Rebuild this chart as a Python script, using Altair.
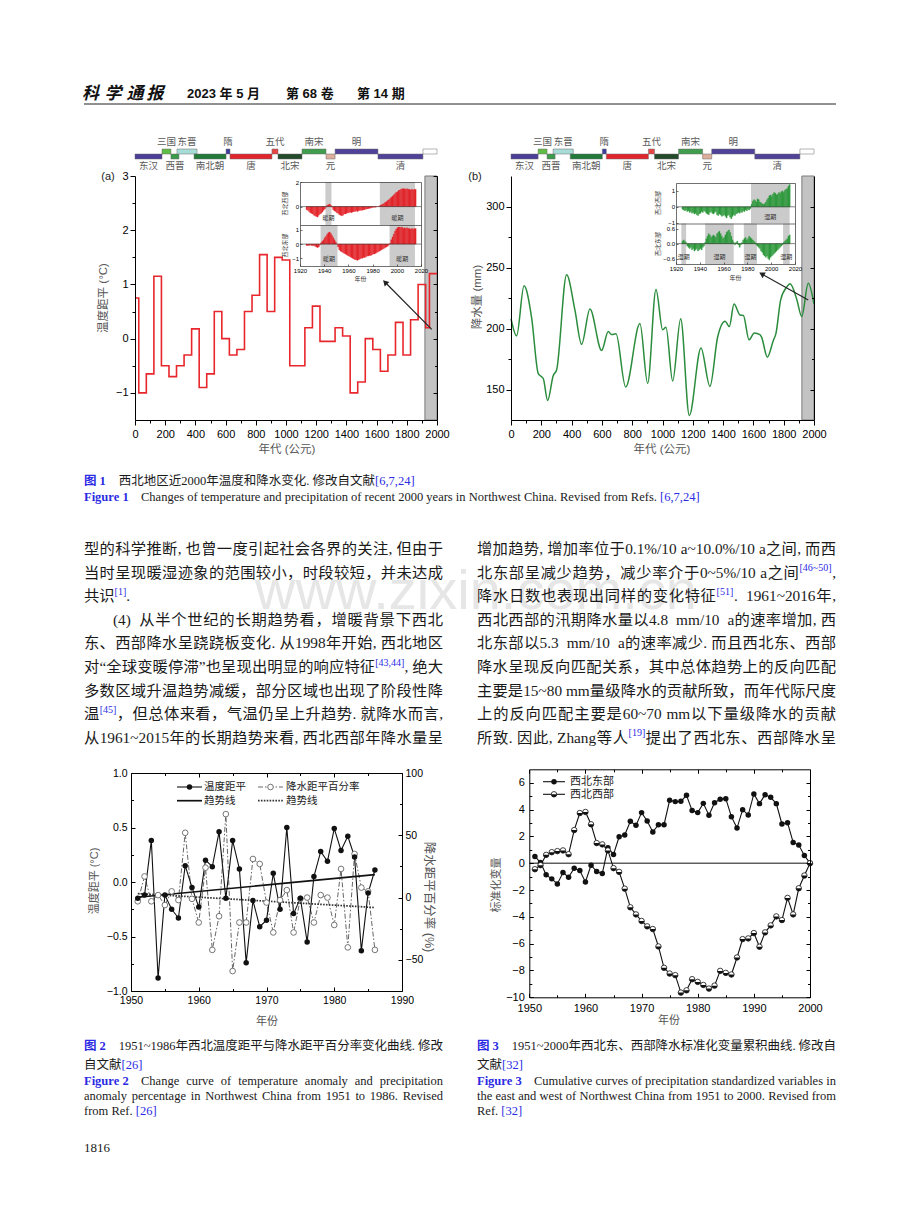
import math
import altair as alt
import pandas as pd

W, H = 920, 1227
SANS = "'Liberation Sans', 'Noto Sans CJK SC', sans-serif"
SERIF = "'Liberation Serif', 'Noto Sans CJK SC', serif"
CJKF = "'Noto Sans CJK SC', sans-serif"
BLUE = "#2b2be3"
INK = "#1a1a1a"
TGRAY = "#555555"

# ============================ DATA ============================
# ---- page text ----
HEADER_LOGO = ["科", "学", "通", "报"]
HEADER_ISSUE = ["2023 年 5 月", "第 68 卷", "第 14 期"]
PAGE_NUMBER = "1816"
WATERMARK = "www.zixin.com.cn"

BODY_LEFT = [
    ([("型的科学推断, 也曾一度引起社会各界的关注, 但由于", "n")], True),
    ([("当时呈现暖湿迹象的范围较小，时段较短，并未达成", "n")], True),
    ([("共识", "n"), ("[1]", "sup"), (".", "n")], False),
    ([("(4)  从半个世纪的长期趋势看，增暖背景下西北", "n")], True),
    ([("东、西部降水呈跷跷板变化. 从1998年开始, 西北地区", "n")], True),
    ([("对“全球变暖停滞”也呈现出明显的响应特征", "n"), ("[43,44]", "sup"), (", 绝大", "n")], True),
    ([("多数区域升温趋势减缓，部分区域也出现了阶段性降", "n")], True),
    ([("温", "n"), ("[45]", "sup"), ("，但总体来看，气温仍呈上升趋势. 就降水而言,", "n")], True),
    ([("从1961~2015年的长期趋势来看, 西北西部年降水量呈", "n")], True),
]
BODY_LEFT_INDENT = {3: 29}
BODY_RIGHT = [
    ([("增加趋势, 增加率位于0.1%/10 a~10.0%/10 a之间, 而西", "n")], True),
    ([("北东部呈减少趋势，减少率介于0~5%/10 a之间", "n"), ("[46~50]", "sup"), (",", "n")], True),
    ([("降水日数也表现出同样的变化特征", "n"), ("[51]", "sup"), (".  1961~2016年,", "n")], True),
    ([("西北西部的汛期降水量以4.8  mm/10  a的速率增加, 西", "n")], True),
    ([("北东部以5.3  mm/10  a的速率减少. 而且西北东、西部", "n")], True),
    ([("降水呈现反向匹配关系，其中总体趋势上的反向匹配", "n")], True),
    ([("主要是15~80 mm量级降水的贡献所致，而年代际尺度", "n")], True),
    ([("上的反向匹配主要是60~70 mm以下量级降水的贡献", "n")], True),
    ([("所致. 因此, Zhang等人", "n"), ("[19]", "sup"), ("提出了西北东、西部降水呈", "n")], True),
]

FIG1_CAP = [
    ("图 1", [("西北地区近2000年温度和降水变化. 修改自文献", "cn"), ("[6,7,24]", "cb")], False),
    ("Figure 1", [("Changes of temperature and precipitation of recent 2000 years in Northwest China. Revised from Refs. ", "cn"), ("[6,7,24]", "cb")], False),
]
FIG2_CAP = [
    ("图 2", [("1951~1986年西北温度距平与降水距平百分率变化曲线. 修改", "cn")], True),
    ("", [("自文献", "cn"), ("[26]", "cb")], False),
    ("Figure 2", [("Change curve of temperature anomaly and precipitation", "cn")], True),
    ("", [("anomaly percentage in Northwest China from 1951 to 1986. Revised", "cn")], True),
    ("", [("from Ref. ", "cn"), ("[26]", "cb")], False),
]
FIG3_CAP = [
    ("图 3", [("1951~2000年西北东、西部降水标准化变量累积曲线. 修改自", "cn")], True),
    ("", [("文献", "cn"), ("[32]", "cb")], False),
    ("Figure 3", [("Cumulative curves of precipitation standardized variables in", "cn")], True),
    ("", [("the east and west of Northwest China from 1951 to 2000. Revised from", "cn")], True),
    ("", [("Ref. ", "cn"), ("[32]", "cb")], False),
]

# ---- Figure 1: dynasty bar ----
DYN_NAMES = ["东汉", "三国", "西晋", "东晋", "南北朝", "隋", "唐", "五代", "北宋", "南宋", "元", "明", "清", "民国"]
DYN_START = [0, 179, 238, 278, 391, 603, 629, 907, 947, 1106, 1265, 1325, 1609, 1907]
DYN_END = [179, 238, 291, 411, 603, 629, 907, 947, 1106, 1265, 1325, 1609, 1907, 2000]
DYN_ROW = ["low", "up", "low", "up", "low", "up", "low", "up", "low", "up", "low", "up", "low", "up"]
DYN_COLOR = ["#4b3e97", "#5fbd45", "#3c9a4b", "#a8dcd7", "#217a39", "#3b3b9f", "#e1252c",
             "#e94444", "#234a2b", "#409d4e", "#dcae9b", "#504299", "#504299", "#ffffff"]

# ---- Figure 1a: temperature anomaly (50-yr steps) ----
TEMP_YEAR = [0, 25, 75, 125, 175, 225, 275, 325, 375, 425, 475, 525, 575, 625, 675, 725, 775, 825, 875, 925,
             975, 1025, 1125, 1175, 1225, 1325, 1375, 1425, 1475, 1525, 1575, 1625, 1675, 1725, 1775, 1825,
             1875, 1925, 1950, 2000]
TEMP_ANOM = [0.75, -1.0, -0.65, 1.15, -0.5, -0.7, -0.5, -0.3, 0.18, -0.9, -0.65, 0.5, 0.0, -0.3, -0.2, 0.5,
             0.8, 1.55, 0.5, 1.5, 1.45, -0.5, 0.2, 0.6, -0.05, 0.2, 0.05, -1.0, -0.8, 0.0, -0.2, -0.6, -0.3,
             0.3, -0.3, 0.35, 1.0, 0.2, 1.2, 1.2]

# ---- Figure 1b: precipitation (mm) ----
PRE_YEAR = [0, 37, 86, 136, 180, 213, 242, 279, 301, 367, 422, 466, 521, 598, 642, 664, 693, 757, 851, 902,
            957, 1001, 1023, 1067, 1120, 1177, 1254, 1313, 1364, 1413, 1441, 1472, 1512, 1534, 1571, 1606,
            1643, 1654, 1692, 1731, 1749, 1780, 1820, 1842, 1886, 1919, 1962, 2000]
PRE_MM = [208, 194, 235, 209, 163, 159, 141, 161.5, 166, 244, 215, 187, 216, 182, 197.5, 195, 195.6, 152, 204,
          155, 232, 199, 201, 157, 208, 128.7, 184, 152.5, 193, 206, 201.6, 220, 211, 210.7, 190.7, 196.4,
          195, 193, 176.5, 190, 196, 223.5, 234, 236.6, 224, 209.8, 237, 220]

MODERN_BAND = [1920, 2000]
ARROW_A_YEAR, ARROW_A_VAL = [1965, 1656], [0.17, 1.04]
ARROW_B_YEAR, ARROW_B_VAL = [1962, 1655], [223.4, 244.7]

# ---- Figure 1 insets (1925-2015, yearly) ----
INSET_YEARS = list(range(1925, 2016))
INSET_A_WEST = [-0.25, -0.3, -0.4, -0.5, -0.55, -0.6, -0.7, -0.75, -0.8, -0.85,
                -0.7, -0.6, -0.55, -0.45, -0.3, -0.2, -0.05, 0.1, 0.15, 0.2,
                0.1, -0.05, -0.25, -0.35, -0.4, -0.5, -0.55, -0.65, -0.7, -0.75,
                -0.7, -0.6, -0.6, -0.55, -0.5, -0.5, -0.45, -0.5, -0.45, -0.4,
                -0.4, -0.35, -0.4, -0.35, -0.3, -0.3, -0.3, -0.25, -0.25, -0.2,
                -0.2, -0.15, -0.15, -0.1, -0.1, -0.05, -0.05, -0.05, 0.0, 0.0,
                0.05, 0.1, 0.15, 0.2, 0.25, 0.35, 0.4, 0.5, 0.55, 0.65,
                0.75, 0.85, 0.95, 1.05, 1.15, 1.2, 1.3, 1.35, 1.4, 1.45,
                1.45, 1.45, 1.4, 1.45, 1.4, 1.4, 1.35, 1.4, 1.35, 1.4,
                1.4]
INSET_A_EAST = [-0.1, -0.1, -0.1, -0.05, -0.1, -0.1, -0.1, -0.15, -0.2, -0.25,
                -0.2, -0.05, 0.1, 0.2, 0.3, 0.45, 0.55, 0.7, 0.8, 0.85,
                0.75, 0.6, 0.45, 0.3, 0.15, 0.0, -0.2, -0.4, -0.5, -0.55,
                -0.6, -0.65, -0.7, -0.75, -0.8, -0.85, -0.9, -0.95, -1.0, -1.05,
                -1.1, -1.1, -1.15, -1.1, -1.05, -1.0, -1.0, -0.95, -0.95, -0.9,
                -0.85, -0.85, -0.8, -0.8, -0.75, -0.7, -0.7, -0.65, -0.6, -0.55,
                -0.5, -0.45, -0.4, -0.35, -0.3, -0.25, -0.2, -0.15, -0.05, 0.05,
                0.3, 0.5, 0.7, 0.9, 1.05, 1.15, 1.2, 1.2, 1.15, 1.2,
                1.1, 1.15, 1.1, 1.15, 1.1, 1.1, 1.05, 1.1, 1.05, 1.1,
                1.1]
INSET_B_WEST = [-0.15, -0.2, -0.25, -0.2, -0.3, -0.25, -0.35, -0.3, -0.4, -0.35,
                -0.45, -0.4, -0.5, -0.55, -0.45, -0.4, -0.3, -0.35, -0.25, -0.3,
                -0.4, -0.45, -0.5, -0.35, -0.3, -0.4, -0.45, -0.35, -0.3, -0.5,
                -0.55, -0.45, -0.5, -0.6, -0.55, -0.5, -0.6, -0.7, -0.55, -0.5,
                -0.65, -0.75, -0.6, -0.5, -0.55, -0.45, -0.4, -0.35, -0.4, -0.3,
                -0.35, -0.25, -0.3, -0.2, -0.25, -0.15, -0.2, -0.1, 0.15, 0.35,
                0.45, 0.4, 0.3, 0.5, 0.45, 0.3, 0.25, 0.2, 0.15, 0.2,
                0.3, 0.45, 0.55, 0.7, 0.75, 0.65, 0.8, 0.9, 0.85, 0.75,
                0.8, 0.9, 0.85, 0.95, 1.0, 0.9, 1.05, 1.1, 1.15, 1.3,
                1.4]
INSET_B_EAST = [0.1, 0.15, 0.1, 0.05, -0.1, -0.15, -0.2, -0.15, -0.25, -0.2,
                -0.3, -0.25, -0.2, -0.3, -0.25, -0.2, -0.25, -0.15, -0.1, 0.05,
                0.2, 0.3, 0.4, 0.35, 0.25, 0.3, 0.35, 0.3, 0.25, 0.4,
                0.45, 0.5, 0.4, 0.3, 0.2, 0.25, 0.35, 0.45, 0.5, 0.55,
                0.45, 0.3, 0.15, 0.05, -0.05, 0.05, 0.1, -0.05, -0.15, -0.05,
                0.05, 0.15, 0.2, 0.25, 0.15, 0.2, 0.3, 0.25, 0.2, 0.15,
                0.1, 0.05, -0.05, -0.1, -0.15, -0.2, -0.3, -0.35, -0.45, -0.5,
                -0.55, -0.5, -0.6, -0.65, -0.55, -0.5, -0.45, -0.4, -0.35, -0.3,
                -0.25, -0.2, -0.15, -0.1, -0.05, 0.05, 0.1, 0.15, 0.2, 0.3,
                0.35]
INSET_A_WEST_WARM = ([1941, 1986], [1946, 2015])
INSET_A_EAST_WARM = ([1937, 1994], [1951, 2015])
INSET_B_WEST_WET = ([1983], [2015.5])
INSET_B_EAST_WET = ([1924.5, 1944.5, 1977, 2010], [1928.5, 1968.5, 1988, 2015.5])

# ---- Figure 2 ----
F2_YEAR = list(range(1951, 1987))
F2_TEMP = [-0.15, -0.12, 0.38, -0.88, -0.12, -0.25, -0.33, 0.15, -0.05, -0.23,
           0.20, 0.14, 0.46, -0.15, 0.38, 0.12, -0.74, -0.17, -0.41, -0.35,
           0.08, -0.25, 0.50, -0.29, -0.15, -0.55, 0.05, 0.28, 0.19, 0.49,
           0.29, 0.42, 0.23, -0.63, -0.10, 0.11]
F2_PREC = [-3, 17, -3, 2, -6, 5, -2, 52, -1, -20,
           24, -42, -15, 67, -59, -20, -20, 31, 27, -4,
           -28, -2, 6, -28, -1, 0, -20, 2, 0, -22,
           23, -40, 35, 8, 5, -42]
F2_TREND_YEAR = [1951, 1986]
F2_TREND_TEMP = [-0.14, 0.067]
F2_TREND_PREC = [3.2, -8.0]

# ---- Figure 3 ----
F3_YEAR = list(range(1951, 2001))
F3_EAST = [0.5, 0.05, -0.87, -1.17, -1.55, -0.7, -1.05, -0.37, -0.55, -1.4,
           -0.15, -0.62, -0.77, 1.15, 0.65, 1.97, 2.1, 3.12, 2.82, 3.77,
           3.14, 2.32, 2.87, 2.87, 4.69, 4.59, 4.61, 5.06, 3.92, 3.77,
           4.46, 3.57, 4.51, 4.76, 4.81, 3.47, 2.62, 3.99, 3.59, 5.16,
           4.44, 5.11, 4.91, 4.44, 2.92, 3.02, 1.55, 1.35, 0.57, 0.0]
F3_WEST = [-0.45, -0.15, 0.62, 0.82, 0.9, 0.95, 0.67, 2.47, 3.74, 3.82,
           2.9, 1.5, 1.4, 0.95, -0.37, -0.65, -1.9, -3.29, -3.82, -4.31,
           -4.71, -4.91, -6.21, -7.8, -8.23, -8.35, -9.65, -9.48, -8.65, -8.85,
           -9.08, -9.35, -9.13, -8.03, -8.18, -8.3, -7.03, -5.66, -5.61, -5.21,
           -6.23, -5.16, -4.64, -3.97, -4.24, -2.59, -3.82, -1.87, -0.92, 0.0]

# ============================ HELPERS ============================
DUMMY = pd.DataFrame({"d": [0]})
OPP = {"left": "right", "right": "left", "top": "bottom", "bottom": "top"}


def sc(dom, rng):
    return alt.Scale(domain=list(dom), range=list(rng), nice=False, zero=False)


def val2px(v, dom, rng):
    return rng[0] + (v - dom[0]) / (dom[1] - dom[0]) * (rng[1] - rng[0])


def px2val(p, dom, rng):
    return dom[0] + (p - rng[0]) / (rng[1] - rng[0]) * (dom[1] - dom[0])


def axis_layer(chan, dom, rng, orient, pos, values=(), labels=False, tick=0.0, line=True,
               fmt=None, fs=11.0, pad=3.0, color="black", lw=1.0, lcolor="black"):
    off = {"left": -pos, "right": pos - W, "top": -pos, "bottom": pos - H}[orient]
    kw = dict(orient=orient, offset=off, grid=False, title=None, labels=labels,
              ticks=tick > 0, domain=line, domainColor=color, domainWidth=lw,
              tickColor=color, tickWidth=lw, labelFont=SANS, labelFontSize=fs,
              labelColor=lcolor, labelPadding=pad, labelFlush=False,
              labelOverlap=False, values=list(values), zindex=3)
    if tick > 0:
        kw["tickSize"] = tick
    if fmt:
        kw["format"] = fmt
    enc = (alt.X if chan == "x" else alt.Y)("v:Q", scale=sc(dom, rng), axis=alt.Axis(**kw))
    return alt.Chart(pd.DataFrame({"v": list(dom)})).mark_point(opacity=0, size=1).encode(**{chan: enc})


def frame_side(chan, dom, rng, orient, pos, major, minor=(), labels=True, fmt=None, fs=11,
               pad=3, inward=True, tick=4, mtick=2.5, color="black", lw=1.0):
    out = []
    if inward:
        out.append(axis_layer(chan, dom, rng, orient, pos, values=major if labels else [],
                              labels=labels, line=True, fmt=fmt, fs=fs, pad=pad, color=color, lw=lw))
        out.append(axis_layer(chan, dom, rng, OPP[orient], pos, values=major, tick=tick,
                              line=False, color=color, lw=lw))
        if minor:
            out.append(axis_layer(chan, dom, rng, OPP[orient], pos, values=minor, tick=mtick,
                                  line=False, color=color, lw=lw))
    else:
        out.append(axis_layer(chan, dom, rng, orient, pos, values=major, labels=labels, tick=tick,
                              line=True, fmt=fmt, fs=fs, pad=pad, color=color, lw=lw))
        if minor:
            out.append(axis_layer(chan, dom, rng, orient, pos, values=minor, tick=mtick,
                                  line=False, color=color, lw=lw))
    return out


def band_layer(x0s, x1s, xd, xr, yd, yr, fill, stroke=None, sw=0.0):
    n = len(x0s)
    df = pd.DataFrame({"x0": x0s, "x1": x1s, "y0": [yd[0]] * n, "y1": [yd[1]] * n})
    kw = dict(fill=fill, opacity=1)
    if stroke:
        kw.update(stroke=stroke, strokeWidth=sw)
    return alt.Chart(df).mark_rect(**kw).encode(
        x=alt.X("x0:Q", scale=sc(xd, xr), axis=None), x2="x1:Q",
        y=alt.Y("y0:Q", scale=sc(yd, yr), axis=None), y2="y1:Q")


def bars_layer(years, vals, xd, xr, yd, yr, color):
    df = pd.DataFrame({"x0": years, "v": vals})
    df["x1"] = df["x0"] + 1
    df["z"] = 0.0
    return alt.Chart(df).mark_rect(fill=color, stroke=color, strokeWidth=0.3, opacity=1).encode(
        x=alt.X("x0:Q", scale=sc(xd, xr), axis=None), x2="x1:Q",
        y=alt.Y("z:Q", scale=sc(yd, yr), axis=None), y2="v:Q")


def line_layer(xs, ys, xd, xr, yd, yr, color, width, interp="linear", dash=None):
    df = pd.DataFrame({"x": xs, "y": ys})
    kw = dict(color=color, strokeWidth=width, interpolate=interp)
    if dash:
        kw["strokeDash"] = dash
    return alt.Chart(df).mark_line(**kw).encode(
        x=alt.X("x:Q", scale=sc(xd, xr), axis=None),
        y=alt.Y("y:Q", scale=sc(yd, yr), axis=None))


def point_layer(xs, ys, xd, xr, yd, yr, shape="circle", size=30, fill="black",
                stroke=None, sw=0.0, angle=None):
    kw = dict(shape=shape, size=size, filled=True, fill=fill, opacity=1)
    if stroke:
        kw.update(stroke=stroke, strokeWidth=sw)
    else:
        kw.update(strokeWidth=0)
    if angle is not None:
        kw["angle"] = angle
    df = pd.DataFrame({"x": xs, "y": ys})
    return alt.Chart(df).mark_point(**kw).encode(
        x=alt.X("x:Q", scale=sc(xd, xr), axis=None),
        y=alt.Y("y:Q", scale=sc(yd, yr), axis=None))


def hrule_layer(xd, xr, yd, yr, yval, color, width):
    df = pd.DataFrame({"x0": [xd[0]], "x1": [xd[1]], "y": [yval]})
    return alt.Chart(df).mark_rule(color=color, strokeWidth=width).encode(
        x=alt.X("x0:Q", scale=sc(xd, xr), axis=None), x2="x1:Q",
        y=alt.Y("y:Q", scale=sc(yd, yr), axis=None))


def label_layer(xs, ys, texts, xd, xr, yd, yr, fs, color):
    df = pd.DataFrame({"x": xs, "y": ys, "t": texts})
    return alt.Chart(df).mark_text(font=SANS, fontSize=fs, color=color, align="center",
                                   baseline="middle").encode(
        x=alt.X("x:Q", scale=sc(xd, xr), axis=None),
        y=alt.Y("y:Q", scale=sc(yd, yr), axis=None), text="t:N")


def arrow_layers(xs, ys, xd, xr, yd, yr):
    x0, y0 = val2px(xs[0], xd, xr), val2px(ys[0], yd, yr)
    x1, y1 = val2px(xs[1], xd, xr), val2px(ys[1], yd, yr)
    ang = math.degrees(math.atan2(x1 - x0, -(y1 - y0))) % 360
    return [line_layer(xs, ys, xd, xr, yd, yr, "#222222", 1.2),
            point_layer([xs[1]], [ys[1]], xd, xr, yd, yr, shape="triangle-up", size=42,
                        fill="#222222", angle=round(ang, 1))]


def g_rule(x0, x1, y, color, width, dash=None):
    kw = dict(color=color, strokeWidth=width)
    if dash:
        kw["strokeDash"] = dash
    return alt.Chart(DUMMY).mark_rule(**kw).encode(x=alt.value(x0), x2=alt.value(x1), y=alt.value(y))


def g_point(x, y, shape, size, fill, stroke=None, sw=0.0):
    kw = dict(shape=shape, size=size, filled=True, fill=fill, opacity=1)
    if stroke:
        kw.update(stroke=stroke, strokeWidth=sw)
    else:
        kw.update(strokeWidth=0)
    return alt.Chart(DUMMY).mark_point(**kw).encode(x=alt.value(x), y=alt.value(y))


HALF = "M 1 0 " + " ".join(
    "L %.3f %.3f" % (math.cos(math.radians(a)), math.sin(math.radians(a))) for a in range(15, 181, 15)) + " Z"

# ---------------- text engine ----------------
TW = {" ": 250, "!": 333, "%": 833, "(": 333, ")": 333, ",": 250, "-": 333, ".": 250, "/": 278,
      ":": 278, ";": 278, "[": 333, "]": 333, "~": 541, "\u201c": 444, "\u201d": 444, "°": 400}
for _d in "0123456789":
    TW[_d] = 500
TW.update(dict(A=722, B=667, C=667, D=722, E=611, F=556, G=722, H=722, I=333, J=389, K=722, L=611,
               M=889, N=722, O=722, P=556, Q=722, R=667, S=556, T=611, U=722, V=722, W=944, X=722,
               Y=722, Z=611))
TW.update(dict(a=444, b=500, c=444, d=500, e=444, f=333, g=500, h=500, i=278, j=278, k=500, l=278,
               m=778, n=500, o=500, p=500, q=500, r=333, s=389, t=278, u=500, v=500, w=722, x=500,
               y=500, z=444))
TWB = dict(TW)
TWB.update({"F": 611, "u": 556, "r": 444, "g": 500})


def is_cjk(ch):
    o = ord(ch)
    return (0x2E80 <= o <= 0x9FFF) or (0xFF00 <= o <= 0xFFEF) or (0x3000 <= o <= 0x303F)


def char_w(ch, bold=False):
    if is_cjk(ch):
        return 1.0
    return (TWB if bold else TW).get(ch, 500) / 1000.0


RECS = []


def add_text(t, x, y, fs, color, font=SERIF, weight="normal", align="left", base="alphabetic",
             ang=0, style="normal"):
    RECS.append(dict(t=t, x=round(x, 2), y=round(y, 2), fs=fs, c=color, ang=ang, font=font,
                     weight=weight, align=align, base=base, style=style))


STY = {
    "n": (15.3, INK, "normal", 0.0),
    "sup": (10.0, BLUE, "normal", -6.5),
    "cn": (12.5, INK, "normal", 0.0),
    "cb": (12.5, BLUE, "normal", 0.0),
    "cl": (12.5, BLUE, "bold", 0.0),
}


def layout(segs, x0, x1, yb, justify):
    toks = []
    gap = 0.0
    for text, st in segs:
        fs, col, wt, dy = STY[st]
        bold = wt == "bold"
        run = ""
        for ch in text + "\0":
            if ch == "\0" or ch == " " or is_cjk(ch):
                if run:
                    toks.append([run, sum(char_w(c, bold) for c in run) * fs, st, gap])
                    gap = 0.0
                    run = ""
                if ch == " ":
                    gap += char_w(" ", bold) * fs
                elif ch != "\0":
                    toks.append([ch, fs, st, gap])
                    gap = 0.0
            else:
                run += ch
    n = len(toks)
    natural = sum(t[1] for t in toks) + sum(t[3] for t in toks[1:])
    extra = (x1 - x0 - natural) / (n - 1) if (justify and n > 1) else 0.0
    x = x0
    for i, (t, w, st, g) in enumerate(toks):
        if i > 0:
            x += g + extra
        fs, col, wt, dy = STY[st]
        add_text(t, x, yb + dy, fs, col, SERIF, wt)
        x += w
    return x


def text_layers(recs):
    df = pd.DataFrame(recs)
    out = []
    for key, g in df.groupby(["font", "weight", "align", "base", "style"], sort=False):
        font, weight, align, base, style = key
        d = g[["t", "x", "y", "fs", "c", "ang"]].reset_index(drop=True)
        out.append(alt.Chart(d).mark_text(font=font, fontWeight=weight, align=align, baseline=base,
                                          fontStyle=style).encode(
            x=alt.X("x:Q", scale=None), y=alt.Y("y:Q", scale=None), text="t:N",
            size=alt.Size("fs:Q", scale=None), color=alt.Color("c:N", scale=None),
            angle=alt.Angle("ang:Q", scale=None)))
    return out


# ============================ BUILD ============================
layers = []

# watermark (behind everything)
wm = dict(t=WATERMARK, x=255, y=609, fs=56, c="#e6e6e6", ang=0, font=SANS, weight="normal",
          align="left", base="alphabetic", style="normal")
layers += text_layers([wm])

# ---------------- Figure 1 main panels ----------------
PANELS = [
    dict(xr=[135, 437], yd=[-1.5, 3.0], yr=[420, 176], major=[-1, 0, 1, 2, 3],
         minor=[-0.5, 0.5, 1.5, 2.5]),
    dict(xr=[511, 814], yd=[125, 325], yr=[420, 176], major=[150, 200, 250, 300],
         minor=[175, 225, 275]),
]
XD = [0, 2000]
DYS_D, DYS_R = [0, 2], [159, 149]
dyn = pd.DataFrame({"name": DYN_NAMES, "s": DYN_START, "e": DYN_END, "row": DYN_ROW, "col": DYN_COLOR})
dyn["y0"] = [1.0 if r == "up" else 0.0 for r in dyn["row"]]
dyn["y1"] = dyn["y0"] + 1.0
dyn["mid"] = (dyn["s"] + dyn["e"]) / 2.0
dyn["ly"] = [3.4 if r == "up" else -1.4 for r in dyn["row"]]

for k, P in enumerate(PANELS):
    xr, yd, yr = P["xr"], P["yd"], P["yr"]
    # dynasty bar
    layers.append(alt.Chart(dyn).mark_rect(stroke="#6a6a6a", strokeWidth=0.5, opacity=1).encode(
        x=alt.X("s:Q", scale=sc(XD, xr), axis=None), x2="e:Q",
        y=alt.Y("y0:Q", scale=sc(DYS_D, DYS_R), axis=None), y2="y1:Q",
        color=alt.Color("col:N", scale=None)))
    layers.append(alt.Chart(dyn[dyn["name"] != "民国"]).mark_text(
        font=SANS, fontSize=9.5, color="#5a5a5a", align="center", baseline="middle").encode(
        x=alt.X("mid:Q", scale=sc(XD, xr), axis=None),
        y=alt.Y("ly:Q", scale=sc(DYS_D, DYS_R), axis=None), text="name:N"))
    # modern gray band
    layers.append(band_layer([MODERN_BAND[0]], [MODERN_BAND[1]], XD, xr, yd, yr, "#c3c3c3",
                             stroke="#7c7c7c", sw=1.0))
    if k == 0:
        layers.append(line_layer(TEMP_YEAR, TEMP_ANOM, XD, xr, yd, yr, "#e8272c", 1.6,
                                 interp="step-after"))
        layers += arrow_layers(ARROW_A_YEAR, ARROW_A_VAL, XD, xr, yd, yr)
    else:
        layers.append(line_layer(PRE_YEAR, PRE_MM, XD, xr, yd, yr, "#2a8c3c", 1.5,
                                 interp="monotone"))
        layers += arrow_layers(ARROW_B_YEAR, ARROW_B_VAL, XD, xr, yd, yr)
    # axes
    layers += frame_side("y", yd, yr, "left", xr[0], P["major"], P["minor"], labels=True,
                         fs=11, pad=2, inward=False, tick=5, mtick=3)
    layers += frame_side("x", XD, xr, "bottom", yr[0], list(range(0, 2001, 200)),
                         list(range(100, 2000, 200)), labels=True, fmt="d", fs=11, pad=3,
                         inward=False, tick=5, mtick=3)
    layers += frame_side("y", yd, yr, "right", xr[1], P["major"], P["minor"], labels=False,
                         inward=True, tick=4, mtick=2.5)

# ---------------- Figure 1 insets ----------------
INSETS = [
    dict(xr=[300, 421], tyd=[-1.5, 2.0], tyr=[225, 182], byd=[-1.55, 1.35], byr=[266, 225],
         west=INSET_A_WEST, east=INSET_A_EAST, color="#e3262b", tb=INSET_A_WEST_WARM,
         bb=INSET_A_EAST_WARM, lab="暖期", tv=[0, 2], bv=[-1, 0, 1], tf=None, bf=None),
    dict(xr=[676, 795], tyd=[-1.05, 1.5], tyr=[223.5, 183], byd=[-0.82, 0.81], byr=[264, 223.5],
         west=INSET_B_WEST, east=INSET_B_EAST, color="#2f9a3d", tb=INSET_B_WEST_WET,
         bb=INSET_B_EAST_WET, lab="湿期", tv=[-1, 0, 1], bv=[-0.6, 0, 0.6], tf=None, bf=".1f"),
]
IXD = [1920, 2020]
for I in INSETS:
    xr, tyd, tyr, byd, byr = I["xr"], I["tyd"], I["tyr"], I["byd"], I["byr"]
    layers.append(band_layer(I["tb"][0], I["tb"][1], IXD, xr, tyd, tyr, "#cbcbcb"))
    layers.append(band_layer(I["bb"][0], I["bb"][1], IXD, xr, byd, byr, "#cbcbcb"))
    layers.append(bars_layer(INSET_YEARS, I["west"], IXD, xr, tyd, tyr, I["color"]))
    layers.append(bars_layer(INSET_YEARS, I["east"], IXD, xr, byd, byr, I["color"]))
    layers.append(hrule_layer(IXD, xr, tyd, tyr, 0, "#333333", 0.6))
    layers.append(hrule_layer(IXD, xr, byd, byr, 0, "#333333", 0.6))
    tmid = [(a + b) / 2 for a, b in zip(*I["tb"])]
    bmid = [(a + b) / 2 for a, b in zip(*I["bb"])]
    ty = px2val(tyr[0] - 7, tyd, tyr)
    by = px2val(byr[0] - 6.7, byd, byr)
    layers.append(label_layer(tmid, [ty] * len(tmid), [I["lab"]] * len(tmid), IXD, xr, tyd, tyr, 6, "#333333"))
    layers.append(label_layer(bmid, [by] * len(bmid), [I["lab"]] * len(bmid), IXD, xr, byd, byr, 6, "#333333"))
    fc, lw = "#333333", 0.7
    layers += frame_side("y", tyd, tyr, "left", xr[0], I["tv"], labels=True, fmt=I["tf"], fs=6,
                         pad=1.5, tick=2, color=fc, lw=lw)
    layers += frame_side("y", byd, byr, "left", xr[0], I["bv"], labels=True, fmt=I["bf"], fs=6,
                         pad=1.5, tick=2, color=fc, lw=lw)
    layers.append(axis_layer("y", [0, 1], [byr[0], tyr[1]], "right", xr[1], color=fc, lw=lw))
    layers.append(axis_layer("x", IXD, xr, "top", tyr[1], color=fc, lw=lw))
    layers.append(axis_layer("x", IXD, xr, "bottom", tyr[0], color=fc, lw=lw))
    layers += frame_side("x", IXD, xr, "bottom", byr[0], list(range(1920, 2021, 20)), labels=True,
                         fmt="d", fs=6, pad=1.5, tick=2, color=fc, lw=lw)

# ---------------- Figure 2 ----------------
F2_XD, F2_XR = [1950, 1990], [131, 402]
F2_YLD, F2_YR = [-1.0, 1.0], [991, 773]
F2_YRD = [-75, 100]
layers.append(line_layer(F2_YEAR, F2_PREC, F2_XD, F2_XR, F2_YRD, F2_YR, "#666666", 1.0,
                         dash=[5, 2, 1.5, 2]))
layers.append(line_layer(F2_YEAR, F2_TEMP, F2_XD, F2_XR, F2_YLD, F2_YR, "#111111", 1.1))
layers.append(line_layer(F2_TREND_YEAR, F2_TREND_TEMP, F2_XD, F2_XR, F2_YLD, F2_YR, "#111111", 1.7))
layers.append(line_layer(F2_TREND_YEAR, F2_TREND_PREC, F2_XD, F2_XR, F2_YRD, F2_YR, "#333333", 1.7,
                         dash=[1.6, 1.3]))
layers.append(point_layer(F2_YEAR, F2_PREC, F2_XD, F2_XR, F2_YRD, F2_YR, size=32, fill="white",
                          stroke="#666666", sw=0.9))
layers.append(point_layer(F2_YEAR, F2_TEMP, F2_XD, F2_XR, F2_YLD, F2_YR, size=30, fill="#111111"))
layers += frame_side("y", F2_YLD, F2_YR, "left", F2_XR[0], [-1.0, -0.5, 0.0, 0.5, 1.0],
                     [-0.75, -0.25, 0.25, 0.75], labels=True, fmt=".1f", fs=10.5, pad=4)
layers += frame_side("y", F2_YRD, F2_YR, "right", F2_XR[1], [-50, 0, 50, 100], [-25, 25, 75],
                     labels=True, fs=10.5, pad=3)
layers += frame_side("x", F2_XD, F2_XR, "bottom", F2_YR[0], [1950, 1960, 1970, 1980, 1990],
                     [1955, 1965, 1975, 1985], labels=True, fmt="d", fs=10.5, pad=4)
layers += frame_side("x", F2_XD, F2_XR, "top", F2_YR[1], [1950, 1960, 1970, 1980, 1990],
                     [1955, 1965, 1975, 1985], labels=False)
# legend
layers += [g_rule(177, 202, 787, "#111111", 1.1), g_point(189.5, 787, "circle", 30, "#111111"),
           g_rule(258, 283, 787, "#666666", 1.0, [5, 2, 1.5, 2]),
           g_point(270.5, 787, "circle", 32, "white", "#666666", 0.9),
           g_rule(177, 202, 800.7, "#111111", 1.7),
           g_rule(258, 283, 800.7, "#333333", 1.7, [1.6, 1.3])]

# ---------------- Figure 3 ----------------
F3_XD, F3_XR = [1950, 2000], [529.3, 810]
F3_YD, F3_YR = [-10, 7], [997.3, 769.3]
layers.append(hrule_layer(F3_XD, F3_XR, F3_YD, F3_YR, 0, "#111111", 1.0))
layers.append(line_layer(F3_YEAR, F3_EAST, F3_XD, F3_XR, F3_YD, F3_YR, "#111111", 1.1))
layers.append(line_layer(F3_YEAR, F3_WEST, F3_XD, F3_XR, F3_YD, F3_YR, "#111111", 1.1))
layers.append(point_layer(F3_YEAR, F3_EAST, F3_XD, F3_XR, F3_YD, F3_YR, size=30, fill="#111111"))
layers.append(point_layer(F3_YEAR, F3_WEST, F3_XD, F3_XR, F3_YD, F3_YR, size=30, fill="white",
                          stroke="#111111", sw=0.8))
layers.append(point_layer(F3_YEAR, F3_WEST, F3_XD, F3_XR, F3_YD, F3_YR, shape=HALF, size=30,
                          fill="#111111"))
layers += frame_side("y", F3_YD, F3_YR, "left", F3_XR[0], list(range(-10, 7, 2)),
                     list(range(-9, 7, 2)), labels=True, fs=11, pad=5)
layers += frame_side("y", F3_YD, F3_YR, "right", F3_XR[1], list(range(-10, 7, 2)),
                     list(range(-9, 7, 2)), labels=False)
layers += frame_side("x", F3_XD, F3_XR, "bottom", F3_YR[0], list(range(1950, 2001, 10)),
                     list(range(1955, 2000, 10)), labels=True, fmt="d", fs=11, pad=5)
layers += frame_side("x", F3_XD, F3_XR, "top", F3_YR[1], list(range(1950, 2001, 10)),
                     list(range(1955, 2000, 10)), labels=False)
layers += [g_rule(543, 565, 781.7, "#111111", 1.1), g_point(554, 781.7, "circle", 30, "#111111"),
           g_rule(543, 565, 794.3, "#111111", 1.1),
           g_point(554, 794.3, "circle", 30, "white", "#111111", 0.8),
           g_point(554, 794.3, HALF, 30, "#111111")]

# header rule
layers.append(g_rule(84, 836, 104, "#222222", 1.0))

# ---------------- texts ----------------
# header
for ch, cx in zip(HEADER_LOGO, [90.5, 113, 135, 155]):
    add_text(ch, cx, 99, 17, "#111111", CJKF, "bold", "center", style="italic")
for s, x in zip(HEADER_ISSUE, [187, 286, 357]):
    add_text(s, x, 97.6, 13, "#111111", SANS, "bold")

# body text
for col, (x0, x1), lines in [("L", (84, 443), BODY_LEFT), ("R", (477, 836), BODY_RIGHT)]:
    for i, (segs, just) in enumerate(lines):
        indent = BODY_LEFT_INDENT.get(i, 0) if col == "L" else 0
        yc = 548.5 + i * 23.6
        layout(segs, x0 + indent, x1, yc + 5.5, just)


def caption(lines, x0, x1, ycs):
    for (lab, segs, just), yc in zip(lines, ycs):
        yb = yc + 4.3
        if lab:
            layout([(lab, "cl")], x0, x1, yb, False)
            cx = x0 + (57 if lab.startswith("Figure") else 34.8)
        else:
            cx = x0
        layout(segs, cx, x1, yb, just)


caption(FIG1_CAP, 84, 836, [480.5, 496.5])
caption(FIG2_CAP, 84, 443, [1045.5, 1064.5, 1080.5, 1095.5, 1110.5])
caption(FIG3_CAP, 477, 836, [1045.5, 1064.5, 1080.5, 1095.5, 1110.5])
add_text(PAGE_NUMBER, 84, 1151.5, 13, INK, SERIF)

# figure annotations
FIG_LABELS = [
    ("(a)", 108, 176.5, 11, "#222222", 0),
    ("温度距平 (°C)", 104, 298, 11.5, TGRAY, 270),
    ("年代 (公元)", 287, 449.5, 11.5, TGRAY, 0),
    ("(b)", 475, 177, 11, "#222222", 0),
    ("降水量 (mm)", 478, 297, 11.5, TGRAY, 270),
    ("年代 (公元)", 662, 449.5, 11.5, TGRAY, 0),
    ("西北西部", 285, 203.5, 6, "#333333", 270),
    ("西北东部", 285, 245.5, 6, "#333333", 270),
    ("年份", 360.5, 278.5, 6, "#333333", 0),
    ("西北西部", 658, 203, 6, "#333333", 270),
    ("西北东部", 658, 244, 6, "#333333", 270),
    ("年份", 735.5, 278, 6, "#333333", 0),
    ("温度距平 (°C)", 95, 881, 11, TGRAY, 270),
    ("降水距平百分率 (%)", 429, 897, 12.5, TGRAY, 90),
    ("年份", 267, 1022, 11, TGRAY, 0),
    ("标准化变量", 497, 885, 11, TGRAY, 270),
    ("年份", 669, 1021, 11, TGRAY, 0),
]
for t, x, y, fs, c, a in FIG_LABELS:
    add_text(t, x, y, fs, c, SANS, "normal", "center", "middle", a)

LEGEND_TEXT = [
    ("温度距平", 204, 787, 10.5), ("降水距平百分率", 286, 787, 10.5),
    ("趋势线", 204, 801, 10.5), ("趋势线", 286, 801, 10.5),
    ("西北东部", 570, 782, 11), ("西北西部", 570, 794.5, 11),
]
for t, x, y, fs in LEGEND_TEXT:
    add_text(t, x, y, fs, "#222222", SANS, "normal", "left", "middle")

layers += text_layers(RECS)

chart = alt.layer(*layers).resolve_scale(x="independent", y="independent").properties(
    width=W, height=H, padding=0, background="white",
    autosize=alt.AutoSizeParams(type="none"),
).configure_view(stroke=None)

chart.save("out.html", embed_options={"renderer": "svg", "actions": False})
